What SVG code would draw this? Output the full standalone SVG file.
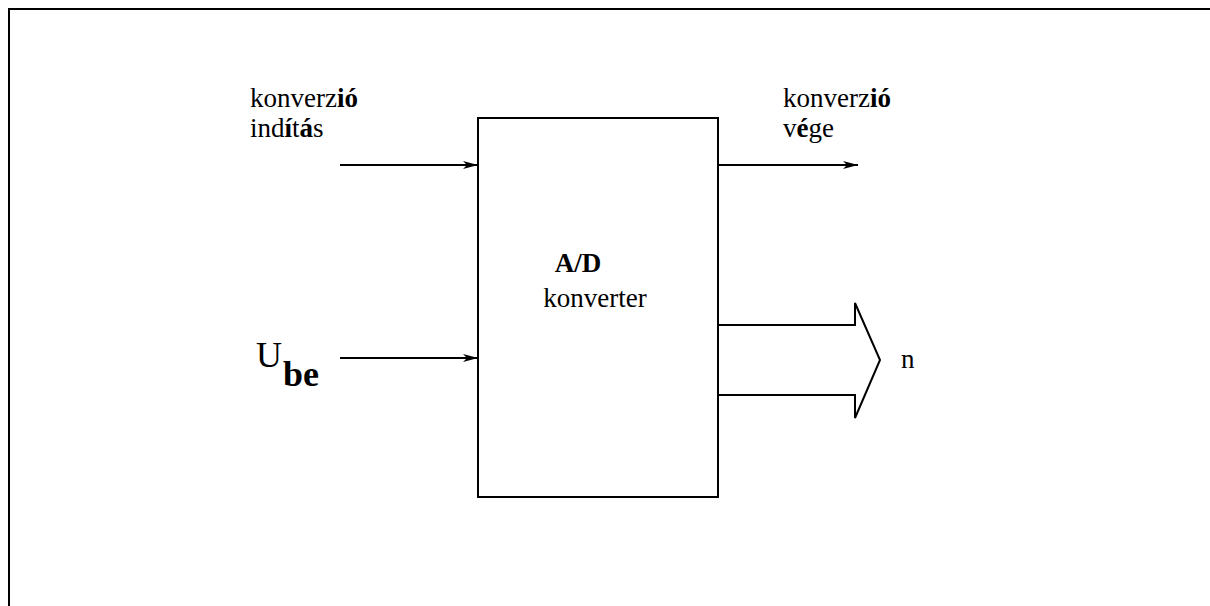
<svg xmlns="http://www.w3.org/2000/svg" width="1210" height="606" viewBox="0 0 1210 606">
  <defs>
    <marker id="arrow" markerWidth="15" markerHeight="8" refX="15" refY="4" orient="auto" markerUnits="userSpaceOnUse">
      <path d="M0,0 L15,4 L0,8 L4,4 Z" fill="#000"/>
    </marker>
    <style>
      .line { stroke: #000; stroke-width: 2; fill: none; }
      .lbl { font-family: "Liberation Serif", "Times New Roman", "DejaVu Serif", serif; font-size: 27px; fill: #000; }
      .b { font-weight: bold; }
      .u { font-size: 36px; }
      .sub { font-size: 36px; }
    </style>
  </defs>
  <rect width="1210" height="606" fill="#fff"/>

  <!-- outer frame (open to the right and bottom) -->
  <path class="line" d="M9,606 V9 H1210"/>

  <!-- converter block -->
  <g id="converter">
    <rect class="line" x="478" y="118" width="240" height="379"/>
    <text class="lbl b" x="578" y="272" text-anchor="middle">A/D</text>
    <text class="lbl" x="595" y="307" text-anchor="middle">konverter</text>
  </g>

  <!-- start-of-conversion input -->
  <g id="start">
    <text class="lbl" x="250" y="107">konverz<tspan class="b">ió</tspan></text>
    <text class="lbl" x="250" y="137">ind<tspan class="b">í</tspan>t<tspan class="b">á</tspan>s</text>
  </g>

  <!-- analog input -->
  <g id="uin">
    <text class="lbl u" x="256" y="367">U</text>
    <text class="lbl sub b" x="283" y="386">be</text>
  </g>

  <!-- end-of-conversion output -->
  <g id="end">
    <text class="lbl" x="783" y="107">konverz<tspan class="b">ió</tspan></text>
    <text class="lbl" x="783" y="137">v<tspan class="b">é</tspan>ge</text>
  </g>

  <!-- n-bit digital output -->
  <g id="out">
    <text class="lbl" x="901" y="368">n</text>
  </g>

  <!-- connectors -->
  <g id="connectors">
    <line class="line" x1="340" y1="165" x2="478" y2="165" marker-end="url(#arrow)"/>
    <line class="line" x1="340" y1="358" x2="478" y2="358" marker-end="url(#arrow)"/>
    <line class="line" x1="718" y1="165" x2="858" y2="165" marker-end="url(#arrow)"/>
    <path class="line" d="M718,325 H855 V303 L880,360 L855,418 V395 H718"/>
  </g>
</svg>
